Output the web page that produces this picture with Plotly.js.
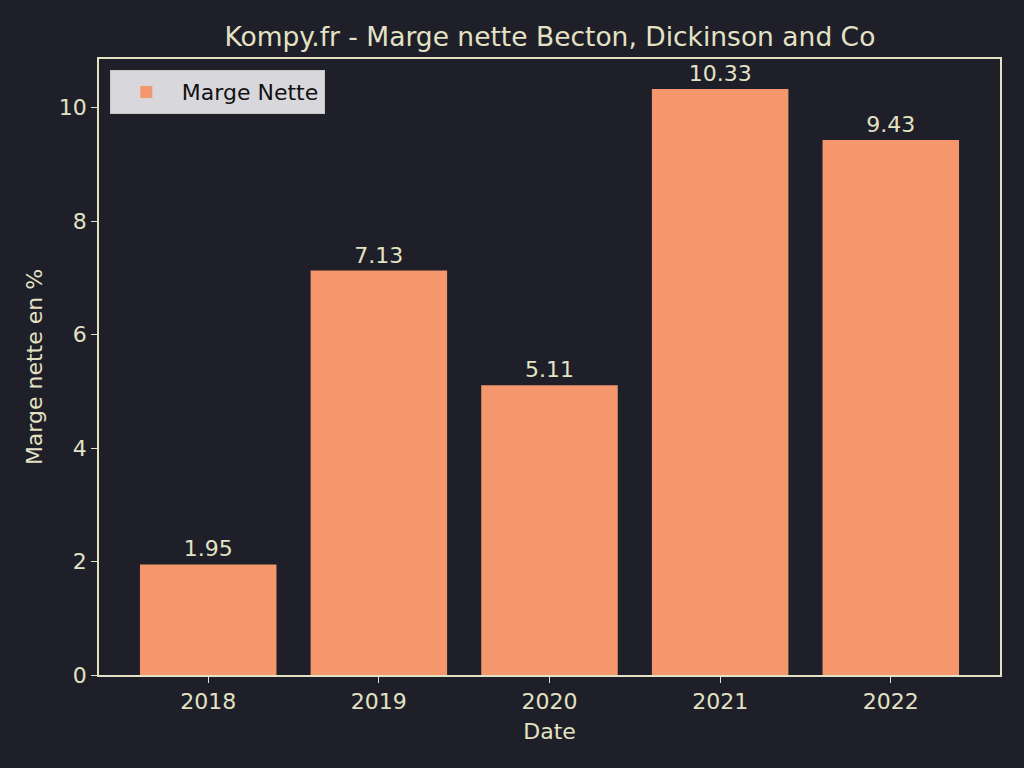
<!DOCTYPE html>
<html>
<head>
<meta charset="utf-8">
<script src="https://cdn.plot.ly/plotly-3.0.1.min.js"></script>
<style>
  html, body { margin: 0; padding: 0; background: #1e1f29; }
  #chart { width: 1024px; height: 768px; }
</style>
</head>
<body>
<div id="chart"></div>
<script>
var years = ["2018", "2019", "2020", "2021", "2022"];
var marge = [1.95, 7.13, 5.11, 10.33, 9.43];
var labels = ["1.95", "7.13", "5.11", "10.33", "9.43"];

var fg = "#e4e2c4";
var bg = "#1e1f29";

var trace = {
    x: years,
    y: marge,
    type: "bar",
    name: "Marge Nette",
    marker: { color: "#f4976c" },
    text: labels,
    textposition: "outside",
    cliponaxis: false,
    textfont: { color: fg, size: 22, family: "DejaVu Sans" },
    hoverinfo: "none"
};

var axisStyle = {
    showline: true,
    mirror: true,
    linecolor: fg,
    linewidth: 1.5,
    ticks: "outside",
    ticklen: 6,
    tickcolor: fg,
    tickfont: { color: fg, size: 22, family: "DejaVu Sans" },
    showgrid: false,
    zeroline: false
};

var layout = {
    width: 1024,
    height: 768,
    paper_bgcolor: bg,
    plot_bgcolor: bg,
    font: { family: "DejaVu Sans", color: fg },
    margin: { l: 99, r: 24, t: 59, b: 93 },
    title: {
        text: "Kompy.fr - Marge nette Becton, Dickinson and Co",
        font: { size: 26.5, color: fg },
        x: 0.537, xanchor: "center",
        y: 0.952, yanchor: "middle"
    },
    bargap: 0.2,
    xaxis: Object.assign({}, axisStyle, {
        type: "category",
        range: [-0.64, 4.64],
        title: { text: "Date", font: { size: 22, color: fg }, standoff: 10 }
    }),
    yaxis: Object.assign({}, axisStyle, {
        range: [0, 10.86],
        tickvals: [0, 2, 4, 6, 8, 10],
        title: { text: "Marge nette en %", font: { size: 22, color: fg }, standoff: 10 }
    }),
    showlegend: true,
    legend: {
        x: 0.012, y: 0.982, xanchor: "left", yanchor: "top",
        bgcolor: "#d8d8dc",
        bordercolor: "#c8c8cc",
        borderwidth: 1,
        itemwidth: 61,
        font: { size: 22, color: "#111111" }
    }
};

Plotly.newPlot("chart", [trace], layout, { displayModeBar: false });
</script>
</body>
</html>
